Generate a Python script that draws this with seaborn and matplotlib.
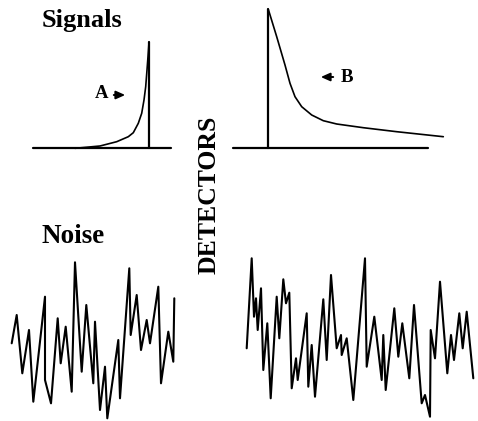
import matplotlib
matplotlib.use("Agg")
import matplotlib.pyplot as plt
import seaborn as sns

sns.set_theme(style="white")
plt.rcParams["font.family"] = ["Liberation Serif", "DejaVu Serif"]

W, H = 478, 421

# Signal A: slow exponential rise ending in a sharp cut-off
sigA_t = [42, 67, 83.7, 95.3, 100.3, 105.3, 108.7, 111, 112.7, 114, 115, 116]
sigA_amp = [0, 2.3, 6.6, 11.6, 15.6, 25, 35, 48.3, 61.6, 78.3, 91.6, 106]
sigA_len = 138

# Signal B: sharp onset followed by a long decaying tail
sigB_t = [35, 43.4, 51.7, 56.7, 61.7, 68.4, 78.4, 90, 103.4, 130, 163.4, 210]
sigB_amp = [139, 111.6, 83.3, 65, 51.6, 41.6, 33.3, 27.6, 24.3, 20.6, 16.6, 11.6]
sigB_len = 195

# Detector noise traces
noiseA_t = [0, 5, 10.6, 17.3, 21.6, 33.3, 33.3, 39.3, 46, 49, 54, 60, 63.3, 70,
            74.6, 81.6, 83.3, 88.3, 93.3, 95.6, 106.6, 108.3, 117.6, 119,
            125, 129.3, 135, 138.3, 146.6, 149.3, 156.6, 161.6, 162.6]
noiseA_amp = [-3.3, 25, -33.3, 10, -61.7, 43.3, -40, -63.3, 21.7, -23.3, 13.3,
              -51.7, 77.7, -31.7, 35, -43.3, 18.3, -70, -26.7, -78.3, 0, -58.3,
              71.7, 5, 45, -10, 20, -3.3, 53.3, -43.3, 8.3, -21.7, 41.7]

noiseB_t = [0, 5, 7.3, 9.3, 11, 14.3, 16.6, 20.6, 24, 30, 32.6, 36.6, 39.3, 42.6,
            45, 49.3, 51, 60, 61.6, 65, 68.3, 76.6, 80, 84.3, 90, 94.3, 95,
            100, 106.6, 118.3, 120, 127.6, 135, 136.6, 139, 147.6, 151.6, 155.6,
            162.6, 167.3, 175, 178.3, 183.3, 184, 188.3, 193.3, 200.6, 204.3,
            207.3, 212.6, 216, 220, 226.6]
noiseB_amp = [-8.3, 81.7, 23.3, 41.7, 10, 51.7, -30, 16.7, -58.3, 43.3, 1.7,
              60.7, 36.7, 47.3, -48.3, -18.3, -40, 26.7, -46.7, -5, -56.7, 40.7,
              -20, 65, -8.3, 5, -15, 1.7, -60, 81.7, -26.7, 23.3, -40, 5, -50,
              31.7, -16.7, 16.7, -38.3, 35, -63.3, -55, -76.7, 10, -18.3, 58.3,
              -33.3, 5, -20, 26.7, -8.3, 28.3, -38.3]

fig = plt.figure(figsize=(W / 100, H / 100), dpi=100)


def panel(ox, oy):
    """Transparent full-figure axes whose data origin sits at pixel (ox, oy)."""
    ax = fig.add_axes([0, 0, 1, 1])
    ax.set_xlim(-ox, W - ox)
    ax.set_ylim(oy - H, oy)
    ax.set_axis_off()
    ax.patch.set_alpha(0)
    return ax


# Signal A
ax = panel(33, 148.3)
sns.lineplot(x=[0, sigA_len], y=[0, 0], color="black", lw=1.6, ax=ax)
sns.lineplot(x=sigA_t, y=sigA_amp, sort=False, estimator=None, color="black", lw=1.2, ax=ax)
sns.lineplot(x=[sigA_t[-1], sigA_t[-1]], y=[0, sigA_amp[-1]], sort=False,
             estimator=None, color="black", lw=1.6, ax=ax)

# Signal B
ax = panel(233.3, 148.3)
sns.lineplot(x=[0, sigB_len], y=[0, 0], color="black", lw=1.6, ax=ax)
sns.lineplot(x=sigB_t, y=sigB_amp, sort=False, estimator=None, color="black", lw=1.2, ax=ax)
sns.lineplot(x=[sigB_t[0], sigB_t[0]], y=[0, sigB_amp[0]], sort=False,
             estimator=None, color="black", lw=1.6, ax=ax)

# Noise traces
ax = panel(11.7, 340)
sns.lineplot(x=noiseA_t, y=noiseA_amp, sort=False, estimator=None, color="black", lw=1.5, ax=ax)
ax = panel(246.7, 340)
sns.lineplot(x=noiseB_t, y=noiseB_amp, sort=False, estimator=None, color="black", lw=1.5, ax=ax)

# Labels
lab = panel(0, H)  # pixel coordinates measured from the top-left corner, y up
def px(x, y):
    return x, H - y

bold = dict(fontweight="bold", color="black")
lab.text(*px(42, 27), "Signals", fontsize=19, va="baseline", ha="left", **bold)
lab.text(*px(42, 243), "Noise", fontsize=19.5, va="baseline", ha="left", **bold)
lab.text(*px(209, 195), "DETECTORS", fontsize=18.5, rotation=90, va="center", ha="center", **bold)
lab.text(*px(95, 98.5), "A", fontsize=13.5, va="baseline", ha="left", **bold)
lab.text(*px(341, 82), "B", fontsize=13.5, va="baseline", ha="left", **bold)
arrow = dict(arrowstyle="-|>,head_length=0.45,head_width=0.2", color="black", lw=1.4)
lab.annotate("", xy=px(128, 95), xytext=px(111, 95), arrowprops=arrow)
lab.annotate("", xy=px(318, 77), xytext=px(336, 77), arrowprops=arrow)

fig.savefig("out.png", dpi=100)
